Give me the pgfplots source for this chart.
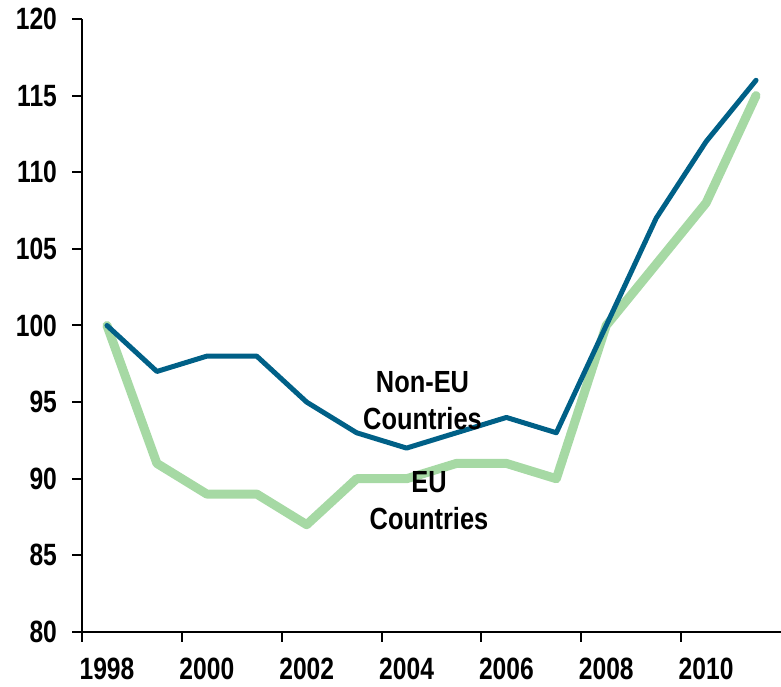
\documentclass[border=0pt]{standalone}
\usepackage{fontspec}
\setmainfont{Liberation Sans}[FakeStretch=0.86]
\newfontfamily\tickfont{Liberation Sans}[FakeStretch=0.80]
\newfontfamily\labfont{Liberation Sans}[FakeStretch=0.83]
\usepackage{pgfplots}
\pgfplotsset{compat=1.18}
\definecolor{nonEU}{RGB}{0,96,135}
\definecolor{EU}{RGB}{166,217,164}
\begin{document}
\begin{tikzpicture}
\begin{axis}[
  scale only axis, width=349.5pt, height=306.5pt,
  xmin=1997.5, xmax=2011.5, ymin=80, ymax=120,
  axis lines*=left,
  axis line style={line width=1pt},
  xtick={1997.5,1999.5,2001.5,2003.5,2005.5,2007.5,2009.5},
  xticklabels={1998,2000,2002,2004,2006,2008,2010},
  ytick={80,85,90,95,100,105,110,115,120},
  tick align=outside, major tick length=5pt,
  tick style={line width=1pt, black},
  xticklabel style={xshift=12.5pt, yshift=-4.5pt},
  yticklabel style={xshift=-4pt},
  ticklabel style={font=\tickfont\bfseries\fontsize{15.4}{15.4}\selectfont},
  /pgf/number format/assume math mode=true,
  clip=false,
]
\addplot[EU, line width=4.5pt, line join=round, line cap=round] coordinates {
(1998,100) (1999,91) (2000,89) (2001,89) (2002,87) (2003,90) (2004,90)
(2005,91) (2006,91) (2007,90) (2008,100) (2009,104) (2010,108) (2011,115)};
\addplot[nonEU, line width=2.5pt, line join=round, line cap=round] coordinates {
(1998,100) (1999,97) (2000,98) (2001,98) (2002,95) (2003,93) (2004,92)
(2005,93) (2006,94) (2007,93) (2008,100) (2009,107) (2010,112) (2011,116)};
\node[align=center, font=\labfont\bfseries\fontsize{15.3}{18.5}\selectfont] at (axis cs:2004.32,95.1) {Non-EU\\Countries};
\node[align=center, font=\labfont\bfseries\fontsize{15.3}{18.5}\selectfont] at (axis cs:2004.45,88.6) {EU\\Countries};
\end{axis}
\pgfresetboundingbox
\path ([shift={(-41pt,-27.5pt)}]current axis.south west) rectangle ([shift={(0pt,9.5pt)}]current axis.north east);
\end{tikzpicture}
\end{document}
